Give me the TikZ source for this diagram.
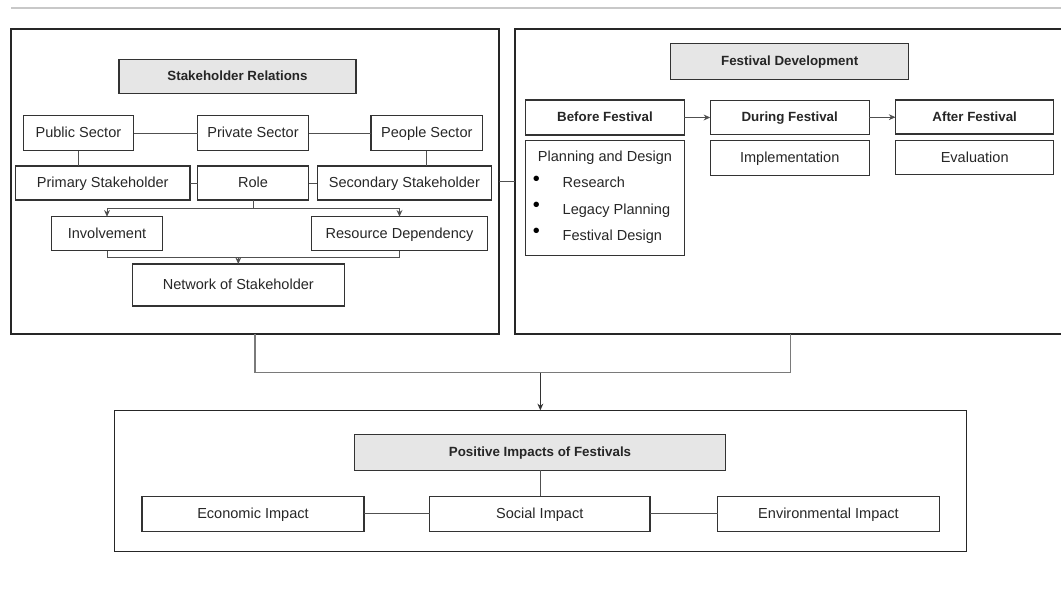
\documentclass[tikz,border=0pt]{standalone}
\usepackage{fontspec}
\setmainfont{Liberation Sans}
\usetikzlibrary{arrows.meta,calc}
\definecolor{boxline}{HTML}{333333}
\definecolor{conline}{HTML}{505050}
\definecolor{titlefill}{HTML}{E6E6E6}
\definecolor{mergeline}{HTML}{7A7A7A}
\definecolor{ruleline}{HTML}{C8C8C8}
\tikzset{
  wh/.style 2 args={minimum width=#1*0.75pt, minimum height=#2*0.75pt},
  box/.style={draw=boxline, line width=0.8pt, inner sep=0pt, outer sep=0pt,
    text height=1.5ex, text depth=.25ex,
    font=\fontsize{10.9}{13}\selectfont, text=black!85},
  titlebox/.style={box, fill=titlefill, font=\bfseries\fontsize{10}{12}\selectfont},
  headbox/.style={box, font=\bfseries\fontsize{10}{12}\selectfont},
  frame/.style={draw=black!85, line width=1pt, inner sep=0pt, outer sep=0pt},
  con/.style={draw=conline, line width=0.75pt},
  arr/.style={con, -{Stealth[length=5pt,width=4.4pt]}},
  merge/.style={draw=mergeline, line width=1.3pt},
  txt/.style={inner sep=0pt, outer sep=0pt, font=\fontsize{10.9}{13}\selectfont, text=black!85},
  bul/.style={inner sep=0pt, outer sep=0pt, font=\fontsize{15}{15}\selectfont, text=black},
}
\begin{document}
\begin{tikzpicture}[x=0.75pt,y=-0.75pt]
\useasboundingbox (0,0) rectangle (1061,594);
% top rule
\coordinate (ruleA) at (11,8);
\coordinate (ruleB) at (1061,8);
\draw[ruleline, line width=1.2pt] (ruleA) -- (ruleB);

% outer frames
\node[frame, wh={488}{305}] (sbox) at (255,181.5) {};
\node[frame, wh={551}{305}] (fbox) at (790.5,181.5) {};
\node[frame, wh={852}{141.4}] (ibox) at (540.35,481) {};

% ---- Stakeholder Relations ----
\node[titlebox, wh={237}{34}] (srel) at (237.5,76.3) {Stakeholder Relations};
\node[box, wh={110.2}{35}] (pub) at (78.4,133.2) {Public Sector};
\node[box, wh={111}{35}] (pri) at (253,133.2) {Private Sector};
\node[box, wh={111.6}{35}] (peo) at (426.8,133.2) {People Sector};
\node[box, wh={174.5}{34}] (prim) at (102.75,183) {Primary Stakeholder};
\node[box, wh={111}{34}] (role) at (253,183) {Role};
\node[box, wh={174}{34}] (sec) at (404.35,183) {Secondary Stakeholder};
\node[box, wh={110.5}{34}] (inv) at (107,233.7) {Involvement};
\node[box, wh={175.7}{34}] (res) at (399.5,233.7) {Resource Dependency};
\node[box, wh={211.5}{42}] (net) at (238.3,285) {Network of Stakeholder};

\draw[con] (pub) -- (pri);
\draw[con] (pri) -- (peo);
\draw[con] (pub.south) -- (pub.south |- prim.north);
\draw[con] (peo.south) -- (peo.south |- sec.north);
\draw[con] (prim) -- (role);
\draw[con] (role) -- (sec);
\coordinate (rs) at ($(role.south)+(0,8.3)$);
\draw[con] (role.south) -- (rs);
\draw[arr] (rs) -| (inv.north);
\draw[arr] (rs) -| (res.north);
\coordinate (ns) at ($(inv.south)+(0,6.6)$);
\draw[con] (inv.south) |- (ns -| res.south) -- (res.south);
\draw[arr] (ns -| net.north) -- (net.north);

% ---- Festival Development ----
\node[titlebox, wh={238}{36}] (fdev) at (789.7,61.3) {Festival Development};
\node[headbox, wh={158.5}{35}] (bef) at (605,117.5) {Before Festival};
\node[headbox, wh={158.8}{34.3}] (dur) at (789.7,117.2) {During Festival};
\node[headbox, wh={158.4}{34}] (aft) at (974.7,117) {After Festival};
\node[box, wh={158.5}{114.3}] (plan) at (605,197.9) {};
\node[box, wh={158.8}{35}] (impl) at (789.7,158.2) {Implementation};
\node[box, wh={158.4}{34}] (eval) at (974.7,157.7) {Evaluation};

\node[txt, anchor=base] (plant) at (605,161) {Planning and Design};
\node[bul] (b1) at (536.4,180.5) {\textbullet};
\node[bul] (b2) at (536.4,206.8) {\textbullet};
\node[bul] (b3) at (536.4,233) {\textbullet};
\node[txt, anchor=base west] (i1) at (562.7,187.3) {Research};
\node[txt, anchor=base west] (i2) at (562.7,214) {Legacy Planning};
\node[txt, anchor=base west] (i3) at (562.7,240.3) {Festival Design};

\draw[arr] (bef.east) -- (bef.east -| dur.west);
\draw[arr] (dur.east) -- (dur.east -| aft.west);

% link between the two upper frames
\draw[con] (sbox.east) -- (fbox.west);

% merge to bottom frame
\coordinate (m) at ($(sbox.south)+(0,38.5)$);
\draw[merge] (sbox.south) |- (m -| fbox.south) -- (fbox.south);
\draw[arr, draw=black!80] (m -| ibox.north) -- (ibox.north);

% ---- Positive Impacts ----
\node[titlebox, wh={370.2}{35.6}] (pos) at (540,452.5) {Positive Impacts of Festivals};
\node[box, wh={222}{34.7}] (eco) at (253,513.7) {Economic Impact};
\node[box, wh={220.5}{34.7}] (soc) at (539.75,513.7) {Social Impact};
\node[box, wh={221.6}{34.7}] (env) at (828.5,513.7) {Environmental Impact};
\draw[con] (pos.south) -- (pos.south |- soc.north);
\draw[con] (eco) -- (soc);
\draw[con] (soc) -- (env);
\end{tikzpicture}
\end{document}
